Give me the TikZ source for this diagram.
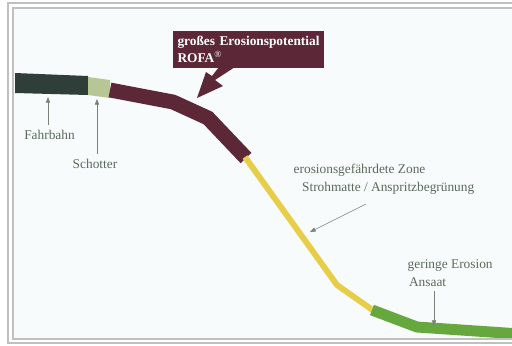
\documentclass[tikz,border=0pt]{standalone}
\usepackage{fontspec}
\setmainfont{Liberation Serif}
\usetikzlibrary{arrows.meta}
\definecolor{hgrund}{RGB}{247,251,251}
\definecolor{rahmen}{RGB}{192,192,192}
\definecolor{asphalt}{RGB}{48,62,58}
\definecolor{kies}{RGB}{184,198,150}
\definecolor{braun}{RGB}{92,40,55}
\definecolor{gelb}{RGB}{232,206,72}
\definecolor{gruen}{RGB}{102,168,62}
\definecolor{schrift}{RGB}{92,106,92}
\definecolor{zeigerfarbe}{RGB}{120,130,120}

\begin{document}
\begin{tikzpicture}[x=0.025cm,y=-0.025cm,line join=miter,
lab/.style={font=\fontsize{9.5}{12.8}\selectfont,text=schrift,inner sep=1pt,align=left},
zeiger/.style={draw=zeigerfarbe,line width=0.4pt,-{Triangle[length=4pt,width=3pt]}},
band/.style={line width=#1,line cap=butt}]
\useasboundingbox (0,0) rectangle (512,345);
\fill[hgrund] (13,8) rectangle (512,339);
% Querprofil
\fill[asphalt] (15,73) -- (88,76) -- (88,95) -- (15,93) -- cycle;
\fill[kies] (88,77) -- (110,80) -- (110,98) -- (88,95) -- cycle;
\draw[braun,band=10.6pt] (110,90) -- (173,102) -- (208,118) -- (246,158);
\draw[gelb,band=4.2pt] (245,157) -- (337,285) -- (374,311);
\draw[gruen,band=7.8pt] (372,310) -- (417,327) -- (520,334);
% Ziele der Pfeile
\coordinate (fb) at (48,97);
\coordinate (sc) at (97,99);
\coordinate (hang) at (310,232);
\coordinate (fuss) at (434,326);
% Beschriftung
\node[lab] (fahrbahn) at (49.5,135) {Fahrbahn};
\node[lab] (schotter) at (95,164) {Schotter};
\node[lab,anchor=north west] (zone) at (292,162) {erosionsgefährdete Zone\\\hspace{6pt}Strohmatte / Anspritzbegrünung};
\node[lab,anchor=north west] (ansaat) at (406,258) {geringe Erosion\\\hspace{1pt}Ansaat};
\draw[zeiger] (fahrbahn.north -| fb) ++(0,-4) -- (fb);
\draw[zeiger] (schotter.north -| sc) ++(0,-4) -- (sc);
\draw[zeiger] ([shift={(-13pt,-6pt)}]zone.south) -- (hang);
\draw[zeiger] (ansaat.south -| fuss) ++(0,3) -- (fuss);
% Hinweis ROFA
\node[fill=braun,text=white,anchor=north west,font=\bfseries\fontsize{9.5}{12}\selectfont,
  align=left,text width=101pt,minimum height=26.3pt,inner xsep=3pt,inner ysep=2pt] (rofa) at (173,31)
  {großes Erosionspotential\\ROFA\textsuperscript{\textmd{®}}};
\fill[braun] (219,67) -- (235,67) -- (215,80) -- (223,86) -- (197,98) -- (206,72) -- (212,76) -- cycle;
% Rahmen
\draw[rahmen,line width=1.4pt] (8,3) rectangle (530,343);
\draw[rahmen,line width=0.8pt] (13,8) rectangle (530,339);
\end{tikzpicture}
\end{document}
